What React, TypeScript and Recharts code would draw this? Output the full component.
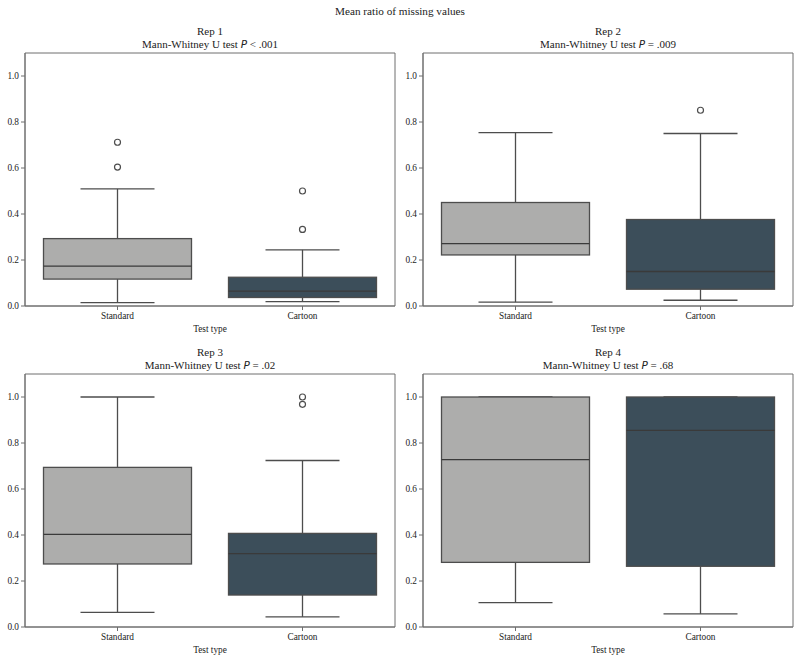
import { Bar, Cell, ComposedChart, ReferenceArea, ReferenceDot, XAxis, YAxis } from 'recharts'

const testTypes = ['Standard', 'Cartoon']
const reps = ['Rep 1', 'Rep 2', 'Rep 3', 'Rep 4']
const pLabels = ['< .001', '= .009', '= .02', '= .68']

// per rep: [Standard, Cartoon]
const lowWhisker = [[0.015, 0.019], [0.017, 0.025], [0.064, 0.044], [0.106, 0.057]]
const q1 = [[0.117, 0.037], [0.222, 0.073], [0.274, 0.139], [0.281, 0.264]]
const median = [[0.173, 0.065], [0.271, 0.15], [0.403, 0.319], [0.728, 0.855]]
const q3 = [[0.293, 0.125], [0.45, 0.376], [0.694, 0.407], [1.0, 1.0]]
const highWhisker = [[0.509, 0.244], [0.754, 0.75], [1.0, 0.724], [1.0, 1.0]]
const outliers = [
  [[0.712, 0.604], [0.5, 0.333]],
  [[], [0.851]],
  [[], [1.0, 0.968]],
  [[], []],
]

const yTicks = [0, 0.2, 0.4, 0.6, 0.8, 1.0]
const colors = ['#adadac', '#3c4e5a']
const lineColor = '#4d4d4d'
const frameColor = '#6e6e6e'
const serif = "'Liberation Serif', 'Times New Roman', 'DejaVu Serif', serif"

const BoxShape = (props: any) => {
  const { x, y, width, height, payload, fill } = props
  const lo = payload.lo
  const hi = payload.hi
  const top = height >= 0 ? y : y + height
  const h = Math.abs(height)
  const py = (v: number) => (hi === lo ? top : top + ((hi - v) / (hi - lo)) * h)
  const cx = x + width / 2
  const capHalf = width / 4
  return (
    <g>
      <line x1={cx} x2={cx} y1={py(hi)} y2={py(payload.q3)} stroke={lineColor} strokeWidth={1.3} />
      <line x1={cx} x2={cx} y1={py(payload.q1)} y2={py(lo)} stroke={lineColor} strokeWidth={1.3} />
      <line x1={cx - capHalf} x2={cx + capHalf} y1={py(hi)} y2={py(hi)} stroke={lineColor} strokeWidth={1.3} />
      <line x1={cx - capHalf} x2={cx + capHalf} y1={py(lo)} y2={py(lo)} stroke={lineColor} strokeWidth={1.3} />
      <rect
        x={x}
        y={py(payload.q3)}
        width={width}
        height={py(payload.q1) - py(payload.q3)}
        fill={fill}
        stroke={lineColor}
        strokeWidth={1.3}
      />
      <line x1={x} x2={x + width} y1={py(payload.median)} y2={py(payload.median)} stroke='#3a3a3a' strokeWidth={1.3} />
    </g>
  )
}

function Panel({ idx, left, top }: { idx: number; left: number; top: number }) {
  const isLeft = left === 0
  const yWidth = isLeft ? 25 : 23
  const rightMargin = isLeft ? 5 : 7
  const data = testTypes.map((name, i) => ({
    name,
    lo: lowWhisker[idx][i],
    q1: q1[idx][i],
    median: median[idx][i],
    q3: q3[idx][i],
    hi: highWhisker[idx][i],
    whisker: [lowWhisker[idx][i], highWhisker[idx][i]],
  }))
  const plotCenter = yWidth + (400 - yWidth - rightMargin) / 2

  return (
    <div style={{ position: 'absolute', left, top, width: 400, height: 336 }}>
      <div
        style={{
          position: 'absolute',
          left: plotCenter - 150,
          width: 300,
          top: 25,
          textAlign: 'center',
          fontFamily: serif,
          fontSize: 11,
          lineHeight: '13px',
          color: '#222',
        }}
      >
        <div>{reps[idx]}</div>
        <div>
          Mann-Whitney U test{' '}
          <span style={{ fontFamily: "'DejaVu Sans', sans-serif", fontStyle: 'italic', fontSize: 10.5 }}>P</span>{' '}
          {pLabels[idx]}
        </div>
      </div>
      <ComposedChart
        width={400}
        height={336}
        data={data}
        margin={{ top: 53, right: rightMargin, left: 0, bottom: 0 }}
        barCategoryGap='10%'
      >
        <XAxis
          dataKey='name'
          height={30}
          stroke={frameColor}
          tickSize={4}
          tick={{ fontSize: 9.3, fontFamily: serif, fill: '#222' }}
          label={{ value: 'Test type', position: 'insideBottom', offset: 4, fontSize: 9.3, fontFamily: serif, fill: '#222' }}
        />
        <YAxis
          type='number'
          domain={[0, 1.1]}
          ticks={yTicks}
          width={yWidth}
          stroke={frameColor}
          tickSize={4}
          tickFormatter={(v) => v.toFixed(1)}
          tick={{ fontSize: 9.3, fontFamily: serif, fill: '#222' }}
        />
        <ReferenceArea y1={0} y2={1.1} fill='none' fillOpacity={0} stroke={frameColor} strokeWidth={1} />
        <Bar dataKey='whisker' shape={BoxShape} isAnimationActive={false}>
          {data.map((d, i) => (
            <Cell key={d.name} fill={colors[i]} />
          ))}
        </Bar>
        {testTypes.map((name, i) =>
          outliers[idx][i].map((v, j) => (
            <ReferenceDot
              key={name + j}
              x={name}
              y={v}
              r={3}
              fill='#ffffff'
              stroke={lineColor}
              strokeWidth={1.2}
            />
          ))
        )}
      </ComposedChart>
    </div>
  )
}

export default function App() {
  return (
    <div style={{ position: 'absolute', left: 0, top: 0, width: 800, height: 661, background: '#fff' }}>
      <div
        style={{
          position: 'absolute',
          left: 0,
          width: 800,
          top: 5,
          textAlign: 'center',
          fontFamily: serif,
          fontSize: 11.2,
          color: '#222',
        }}
      >
        Mean ratio of missing values
      </div>
      <Panel idx={0} left={0} top={0} />
      <Panel idx={1} left={400} top={0} />
      <Panel idx={2} left={0} top={321} />
      <Panel idx={3} left={400} top={321} />
    </div>
  )
}
